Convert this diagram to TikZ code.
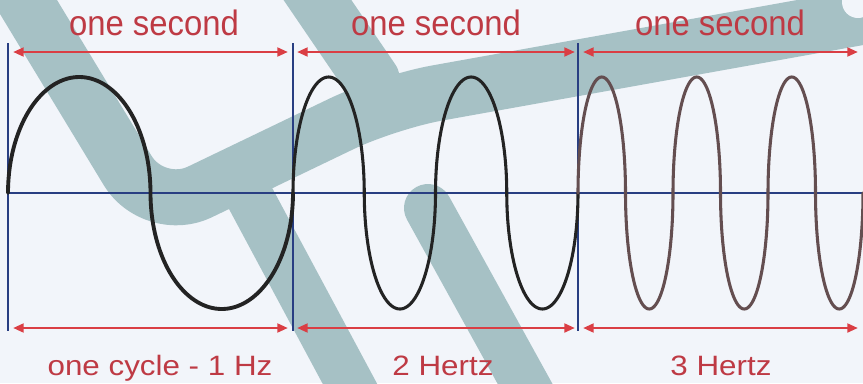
\documentclass[tikz,border=0pt]{standalone}
\usepackage{fontspec}
\setmainfont{Liberation Sans}
\usetikzlibrary{arrows.meta}
\definecolor{bg}{RGB}{242,245,250}
\definecolor{wm}{RGB}{166,193,197}
\definecolor{lbl}{RGB}{190,58,68}
\definecolor{arr}{RGB}{218,62,68}
\definecolor{axisc}{RGB}{40,62,130}
\definecolor{wavea}{RGB}{35,35,35}
\definecolor{wavec}{RGB}{100,78,80}
\begin{document}
\begin{tikzpicture}[x=0.75pt,y=-0.75pt,
  band/.style={wm, line width=42pt, line cap=round, line join=round},
  thinband/.style={band, line width=36pt},
  span/.style={arr, line width=2pt, {Triangle[length=8pt,width=6.5pt]}-{Triangle[length=8pt,width=6.5pt]}},
  divider/.style={axisc, line width=1.3pt},
  axisline/.style={axisc, line width=1.6pt},
  topl/.style={lbl, anchor=base, inner sep=0pt, font=\fontsize{26.5}{30}\selectfont},
  botl/.style={lbl, anchor=base, inner sep=0pt, font=\fontsize{21}{25}\selectfont},
  wave/.style={line join=round, line cap=round}]
\useasboundingbox (0,0) rectangle (863,383);
\fill[bg] (0,0) rectangle (863,383);
% watermark
\begin{scope}
\clip (0,0) rectangle (863,383);
\draw[band, rounded corners=38pt] (0,-40) -- (154,214) -- (387,102) -- (900,10);
\draw[band] (297,-30) -- (372,80);
\draw[thinband] (238,175) -- (372,425);
\draw[thinband] (428,208) -- (545,420);
\fill[bg] (858,2) circle[radius=12pt];
\end{scope}
% dividers and axis
\foreach \n/\x in {1/8,2/293,3/578}{
  \coordinate (v\n t) at (\x,43);
  \coordinate (v\n b) at (\x,331);
  \draw[divider] (v\n t) -- (v\n b);
}
\coordinate (axl) at (8,193);
\coordinate (axr) at (863,193);
\draw[axisline] (axl) -- (axr);
% waves
\draw[wave, wavea, line width=2.9pt] plot[variable=\t, domain=0:360, samples=145]
  ({8+142.5*((\t-mod(\t,180))/180+(1-cos(mod(\t,180)))/2)}, {193-116*sin(\t)});
\draw[wave, wavea, line width=2.3pt] plot[variable=\t, domain=0:720, samples=289]
  ({293+71.25*((\t-mod(\t,180))/180+(1-cos(mod(\t,180)))/2)}, {193-116*sin(\t)});
\draw[wave, wavec, line width=2.3pt] plot[variable=\t, domain=0:1080, samples=433]
  ({578+47.5*((\t-mod(\t,180))/180+(1-cos(mod(\t,180)))/2)}, {193-116*sin(\t)});
% spans
\foreach \n/\a/\b in {1/13/288,2/297/575,3/583/858}{
  \coordinate (t\n a) at (\a,52);
  \coordinate (t\n b) at (\b,52);
  \coordinate (b\n a) at (\a,328);
  \coordinate (b\n b) at (\b,328);
  \draw[span] (t\n a) -- (t\n b);
  \draw[span] (b\n a) -- (b\n b);
}
% labels
\node[topl] (l1) at (154,35) {\scalebox{0.93}[1]{one second}};
\node[topl] (l2) at (436,35) {\scalebox{0.93}[1]{one second}};
\node[topl] (l3) at (720,35) {\scalebox{0.93}[1]{one second}};
\node[botl] (m1) at (160,375) {\scalebox{1.12}[1]{one cycle - 1 Hz}};
\node[botl] (m2) at (443,375) {\scalebox{1.12}[1]{2 Hertz}};
\node[botl] (m3) at (721,375) {\scalebox{1.12}[1]{3 Hertz}};
\end{tikzpicture}
\end{document}
